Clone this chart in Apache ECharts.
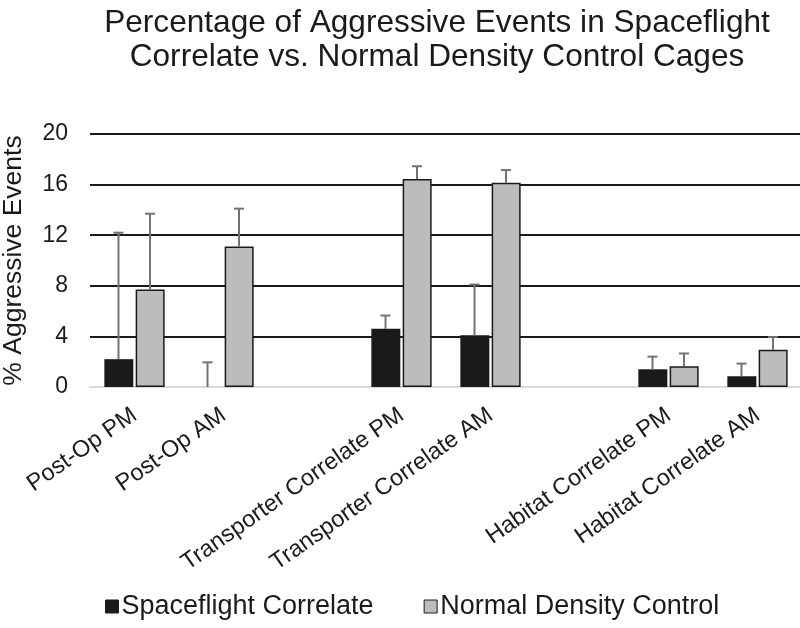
<!DOCTYPE html>
<html>
<head>
<meta charset="utf-8">
<script src="https://cdn.jsdelivr.net/npm/echarts@6/dist/echarts.min.js"></script>
<style>
  html, body { margin: 0; padding: 0; background: #fff; }
  #chart1 { width: 800px; height: 628px; }
</style>
</head>
<body>
<div id="chart1"></div>
<script>
const categories = ['Post-Op PM', 'Post-Op AM', '', 'Transporter Correlate PM', 'Transporter Correlate AM', '', 'Habitat Correlate PM', 'Habitat Correlate AM'];
const spaceflight = [2.2, 0, null, 4.6, 4.1, null, 1.4, 0.85];
const spaceflightErr = [10.0, 1.95, null, 1.05, 4.0, null, 1.0, 1.0];
const control = [7.7, 11.1, null, 16.45, 16.15, null, 1.65, 2.95];
const controlErr = [6.0, 3.0, null, 1.0, 1.0, null, 1.0, 1.0];
const yTicks = [0, 4, 8, 12, 16, 20];

const FONT = "'Liberation Sans', Arial, sans-serif";
const BAR_W = 29;

// barres d'erreur (uniquement vers le haut)
function errData(vals, errs) {
    return vals.map((v, i) => v === null ? null : [i, v, v + errs[i]]).filter(d => d);
}

function errRender(offset) {
    return function (params, api) {
        const base = api.coord([api.value(0), api.value(1)]);
        const top = api.coord([api.value(0), api.value(2)]);
        const x = base[0] + offset;
        const style = { stroke: '#737373', lineWidth: 2 };
        return {
            type: 'group',
            children: [
                { type: 'line', shape: { x1: x, y1: base[1], x2: x, y2: top[1] }, style },
                { type: 'line', shape: { x1: x - 5, y1: top[1], x2: x + 5, y2: top[1] }, style }
            ]
        };
    };
}

const chartDom = document.getElementById('chart1');
const myChart = echarts.init(chartDom);

const option = {
    animation: false,
    textStyle: { fontFamily: FONT },
    title: {
        text: 'Percentage of Aggressive Events in Spaceflight\nCorrelate vs. Normal Density Control Cages',
        left: 432,
        textAlign: 'center',
        top: 1,
        textStyle: { fontFamily: FONT, fontSize: 31.6, fontWeight: 'normal', color: '#1a1a1a', lineHeight: 34 }
    },
    legend: {
        data: [
            { name: 'Spaceflight Correlate', itemStyle: { color: '#1a1a1a', borderColor: '#1a1a1a', borderWidth: 1 } },
            { name: 'Normal Density Control', itemStyle: { color: '#bcbcbc', borderColor: '#1a1a1a', borderWidth: 1 } }
        ],
        left: 100,
        top: 588,
        icon: 'rect',
        itemWidth: 13,
        itemHeight: 13,
        itemGap: 50,
        textStyle: { fontFamily: FONT, fontSize: 27, color: '#1a1a1a', padding: [0, 0, 0, -2] }
    },
    grid: { left: 90, top: 134, width: 712, height: 253, containLabel: false, outerBoundsMode: 'none' },
    xAxis: {
        type: 'category',
        data: categories,
        axisLine: { lineStyle: { color: '#d9d9d9', width: 2 } },
        axisTick: { show: false },
        axisLabel: { interval: 0, rotate: 35, fontSize: 23.5, color: '#1a1a1a', margin: 26, fontFamily: FONT }
    },
    yAxis: {
        type: 'value',
        min: yTicks[0],
        max: yTicks[yTicks.length - 1],
        interval: 4,
        name: '% Aggressive Events',
        nameLocation: 'middle',
        nameGap: 63,
        nameTextStyle: { fontSize: 26.5, color: '#1a1a1a', fontFamily: FONT },
        axisLine: { show: false },
        axisTick: { show: false },
        axisLabel: { fontSize: 23, color: '#1a1a1a', margin: 22, fontFamily: FONT },
        splitLine: { lineStyle: { color: '#1a1a1a', width: 2 } }
    },
    series: [
        {
            name: 'Spaceflight Correlate',
            type: 'bar',
            data: spaceflight,
            barWidth: BAR_W,
            barGap: '8%',
            itemStyle: { color: '#1a1a1a', borderWidth: 0 }
        },
        {
            name: 'Normal Density Control',
            type: 'bar',
            data: control,
            barWidth: BAR_W,
            barGap: '8%',
            itemStyle: { color: '#bcbcbc', borderColor: '#1a1a1a', borderWidth: 1.5 }
        },
        {
            type: 'custom',
            name: 'err1',
            data: errData(spaceflight, spaceflightErr),
            encode: { x: 0, y: 1 },
            renderItem: errRender(-16),
            z: 5
        },
        {
            type: 'custom',
            name: 'err2',
            data: errData(control, controlErr),
            encode: { x: 0, y: 1 },
            renderItem: errRender(15.5),
            z: 5
        }
    ]
};

myChart.setOption(option);
</script>
</body>
</html>
